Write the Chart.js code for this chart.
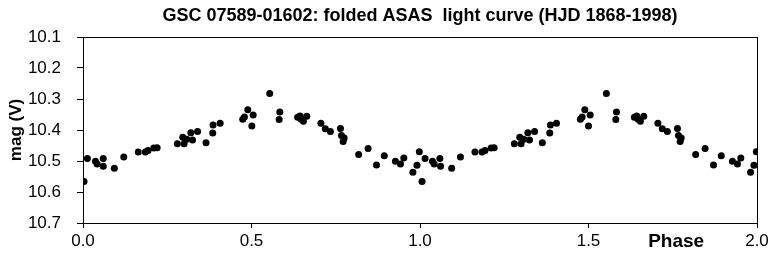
<!DOCTYPE html>
<html>
<head>
<meta charset="utf-8">
<script src="https://cdn.jsdelivr.net/npm/chart.js@4"></script>
<style>
  html, body { margin: 0; padding: 0; background: #fff; }
  canvas { display: block; }
</style>
</head>
<body>
<canvas id="lc" width="772" height="261"></canvas>
<script>
const titleText = 'GSC 07589-01602: folded ASAS  light curve (HJD 1868-1998)';
const xTicks = [0, 0.5, 1.0, 1.5, 2.0];
const yTicks = [10.1, 10.2, 10.3, 10.4, 10.5, 10.6, 10.7];

// first cycle (phase 0..1)
const phaseA = [0.003, 0.013, 0.037, 0.042, 0.060, 0.060, 0.093, 0.121, 0.164, 0.185,
  0.193, 0.210, 0.220, 0.280, 0.296, 0.300, 0.308, 0.320, 0.325, 0.340,
  0.365, 0.385, 0.386, 0.407, 0.474, 0.479, 0.489, 0.501, 0.505, 0.554,
  0.582, 0.584, 0.637, 0.644, 0.647, 0.654, 0.664, 0.706, 0.719, 0.734,
  0.764, 0.767, 0.772, 0.775, 0.818, 0.846, 0.871, 0.894, 0.927, 0.942,
  0.952, 0.979, 0.991, 0.998];
const magA = [10.566, 10.492, 10.501, 10.510, 10.492, 10.517, 10.523, 10.487, 10.471, 10.471,
  10.466, 10.458, 10.457, 10.444, 10.423, 10.444, 10.430, 10.409, 10.432, 10.405,
  10.441, 10.410, 10.384, 10.378, 10.365, 10.358, 10.335, 10.387, 10.352, 10.282,
  10.366, 10.342, 10.359, 10.355, 10.365, 10.372, 10.356, 10.378, 10.396, 10.405,
  10.395, 10.418, 10.437, 10.426, 10.479, 10.460, 10.513, 10.483, 10.501, 10.510,
  10.490, 10.536, 10.514, 10.470];

// second cycle (phase 1..2)
const phaseB = [1.006, 1.015, 1.037, 1.042, 1.059, 1.061, 1.094, 1.120, 1.163, 1.184,
  1.193, 1.211, 1.220, 1.280, 1.296, 1.300, 1.308, 1.320, 1.325, 1.340,
  1.363, 1.385, 1.387, 1.405, 1.476, 1.481, 1.489, 1.500, 1.505, 1.553,
  1.581, 1.583, 1.636, 1.643, 1.647, 1.654, 1.664, 1.706, 1.719, 1.734,
  1.764, 1.767, 1.772, 1.775, 1.818, 1.846, 1.871, 1.894, 1.927, 1.942,
  1.952, 1.981, 1.991, 1.998];
const magB = magA.slice();

const toPoints = (xs, ys) => xs.map((x, i) => ({ x, y: ys[i] }));

const sans = '"Liberation Sans", Arial, sans-serif';
const narrow = '"Liberation Sans Narrow", "Arial Narrow", "Liberation Sans", sans-serif';

// box round the plot, title centred on the plot, and the "Phase" caption
const frame = {
  id: 'frame',
  afterDraw(chart) {
    const { ctx, chartArea: a, scales } = chart;
    ctx.save();
    ctx.strokeStyle = '#000';
    ctx.lineWidth = 1;
    ctx.strokeRect(a.left + 0.5, a.top + 0.5, a.right - a.left, a.bottom - a.top);
    ctx.fillStyle = '#000';
    ctx.textAlign = 'center';
    ctx.textBaseline = 'middle';
    ctx.font = 'bold 18px ' + sans;
    ctx.fillText(titleText, (a.left + a.right) / 2, 16);
    ctx.textBaseline = 'top';
    ctx.font = 'bold 19px ' + sans;
    ctx.fillText('Phase', scales.x.getPixelForValue(1.76), a.bottom + 9);
    ctx.restore();
  },
};

const tickFont = { family: narrow, size: 17 };

new Chart(document.getElementById('lc'), {
  type: 'scatter',
  data: {
    datasets: [
      { data: toPoints(phaseA, magA) },
      { data: toPoints(phaseB, magB) },
    ].map(d => ({ ...d, pointRadius: 3.5, pointBorderWidth: 0, backgroundColor: '#000', borderColor: '#000' })),
  },
  options: {
    responsive: false,
    animation: false,
    layout: { padding: { left: 0, right: 15, top: 37, bottom: 0 } },
    plugins: {
      legend: { display: false },
      tooltip: { enabled: false },
      title: { display: false },
    },
    scales: {
      x: {
        type: 'linear',
        min: 0,
        max: 2,
        afterBuildTicks: s => { s.ticks = xTicks.map(value => ({ value })); },
        afterFit: s => { s.height = 38; },
        ticks: { color: '#000', font: tickFont, padding: 3, maxRotation: 0, callback: v => v.toFixed(1) },
        grid: { drawOnChartArea: false, drawTicks: true, tickLength: 5, color: '#000' },
        border: { color: '#000', width: 1 },
      },
      y: {
        type: 'linear',
        reverse: true,
        min: 10.1,
        max: 10.7,
        afterBuildTicks: s => { s.ticks = yTicks.map(value => ({ value })); },
        afterFit: s => { s.width = 83; },
        ticks: { color: '#000', font: tickFont, padding: 16, callback: v => v.toFixed(1) },
        grid: { drawOnChartArea: false, drawTicks: true, tickLength: 6, color: '#000' },
        border: { color: '#000', width: 1 },
        title: {
          display: true,
          text: 'mag (V)',
          color: '#000',
          font: { family: sans, size: 17, weight: 'bold' },
          padding: { top: 6, bottom: 0 },
        },
      },
    },
  },
  plugins: [frame],
});
</script>
</body>
</html>
